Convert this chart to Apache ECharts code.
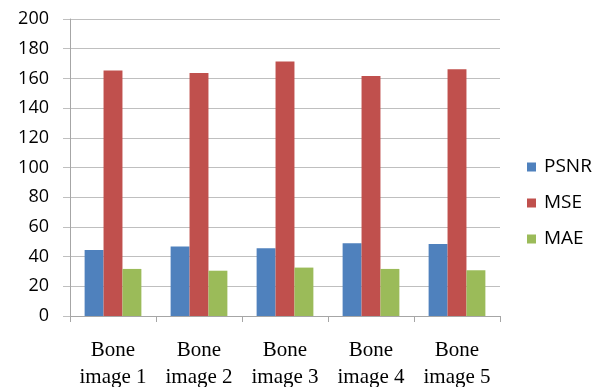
<!DOCTYPE html>
<html><head><meta charset="utf-8">
<script src="https://cdn.jsdelivr.net/npm/echarts@6/dist/echarts.min.js"></script>
<style>html,body{margin:0;padding:0;background:#fff}#c{width:598px;height:387px}</style>
</head><body><div id="c"></div>
<script>
const categories = ['Bone\nimage 1','Bone\nimage 2','Bone\nimage 3','Bone\nimage 4','Bone\nimage 5'];
const psnr = [44.5, 46.8, 45.6, 49.0, 48.5];
const mse = [165.3, 163.7, 171.3, 161.7, 166.2];
const mae = [31.7, 30.5, 32.6, 31.7, 30.8];
const yTicks = {min: 0, max: 200, interval: 20};

const chart = echarts.init(document.getElementById('c'));
const bar = (name, data, color) => ({
  name, type: 'bar', data, barGap: '0%', barCategoryGap: '34%',
  itemStyle: {color}, animation: false
});
chart.setOption({
  animation: false,
  grid: {left: 70, right: 98, top: 19, bottom: 71, outerBoundsMode: 'none', containLabel: false},
  legend: {
    orient: 'vertical', left: 522, top: 151, itemWidth: 9, itemHeight: 9, itemGap: 14,
    icon: 'rect',
    textStyle: {fontFamily: 'Open Sans', fontSize: 19, color: '#000', padding: [0,0,0,3], lineHeight: 22},
    data: ['PSNR','MSE','MAE']
  },
  xAxis: {
    type: 'category', data: categories,
    axisLine: {lineStyle: {color: '#a6a6a6'}},
    axisTick: {show: true, length: 6, interval: 0, lineStyle: {color: '#a6a6a6'}},
    axisLabel: {interval: 0, hideOverlap: false, fontFamily: 'Liberation Serif', fontSize: 21, color: '#000', lineHeight: 27, margin: 21}
  },
  yAxis: {
    type: 'value', min: yTicks.min, max: yTicks.max, interval: yTicks.interval,
    axisLine: {show: true, lineStyle: {color: '#a6a6a6'}},
    axisTick: {show: true, length: 7, lineStyle: {color: '#bfbfbf'}},
    splitLine: {lineStyle: {color: '#bfbfbf'}},
    axisLabel: {fontFamily: 'Open Sans', fontSize: 18, color: '#000', margin: 21}
  },
  series: [bar('PSNR', psnr, '#4F81BD'), bar('MSE', mse, '#C0504D'), bar('MAE', mae, '#9BBB59')]
});
</script></body></html>
